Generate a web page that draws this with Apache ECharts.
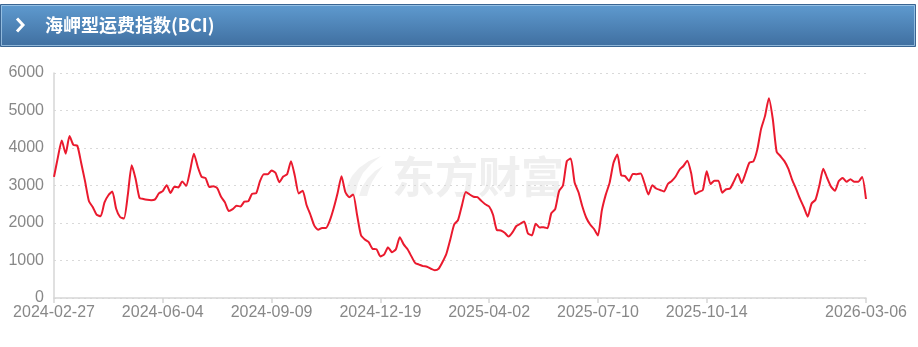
<!DOCTYPE html>
<html>
<head>
<meta charset="utf-8">
<script src="https://cdn.jsdelivr.net/npm/echarts@6/dist/echarts.min.js"></script>
<style>
html,body{margin:0;padding:0;background:#fff;}
#c{width:918px;height:347px;}
</style>
</head>
<body>
<div id="c"></div>
<script>
// tick labels (shown dates) and their category indices
const tickLabels = ['2024-02-27','2024-06-04','2024-09-09','2024-12-19','2025-04-02','2025-07-10','2025-10-14','2026-03-06'];
const tickIndex = [0,28,56,84,112,140,168,209];
const bciValues = [
3230,3750,4200,3850,4320,4080,4060,3600,3110,2580,
2420,2220,2180,2550,2740,2840,2380,2160,2120,2750,
3540,3180,2670,2640,2620,2610,2630,2790,2850,3010,
2800,2970,2950,3110,2990,3380,3850,3500,3230,3200,
2960,2980,2930,2700,2550,2320,2370,2460,2440,2570,
2580,2780,2790,3110,3300,3300,3400,3340,3090,3240,
3300,3650,3250,2790,2860,2480,2220,1930,1820,1870,
1870,2070,2400,2800,3250,2820,2690,2760,2220,1680,
1560,1490,1310,1300,1110,1165,1350,1220,1300,1620,
1430,1300,1110,930,890,850,835,780,740,780,
960,1180,1560,1960,2080,2470,2830,2760,2700,2690,
2590,2500,2440,2220,1810,1800,1740,1640,1750,1920,
1980,2040,1720,1670,1980,1880,1890,1860,2260,2370,
2850,3000,3650,3720,3080,2820,2440,2140,1960,1840,
1670,2330,2750,3070,3600,3830,3270,3250,3120,3310,
3300,3320,3060,2760,3010,2920,2880,2840,3040,3120,
3240,3420,3520,3660,3330,2770,2830,2880,3380,3040,
3130,3130,2810,2900,2920,3110,3310,3070,3330,3610,
3640,3950,4510,4850,5330,4780,3900,3780,3650,3450,
3150,2910,2650,2420,2170,2520,2620,3000,3450,3200,
2970,2860,3120,3200,3100,3170,3100,3100,3230,2640
];
const yTicks = [0,1000,2000,3000,4000,5000,6000];

// build category dates from the tick label anchors
function fmt(d){const p=n=>String(n).padStart(2,'0');return d.getUTCFullYear()+'-'+p(d.getUTCMonth()+1)+'-'+p(d.getUTCDate());}
const categories = [];
for (let s=0; s<tickIndex.length-1; s++){
  const i0=tickIndex[s], i1=tickIndex[s+1];
  const d0=Date.parse(tickLabels[s]+'T00:00:00Z'), d1=Date.parse(tickLabels[s+1]+'T00:00:00Z');
  for (let i=i0; i<i1; i++){
    const t = d0 + Math.round((i-i0)/(i1-i0)*(d1-d0)/86400000)*86400000;
    categories.push(fmt(new Date(t)));
  }
}
categories.push(tickLabels[tickLabels.length-1]);

const shown = new Set(tickIndex);
const showFn = (idx) => shown.has(idx);

const chart = echarts.init(document.getElementById('c'), null, {renderer:'canvas'});
chart.setOption({
  animation:false,
  backgroundColor:'#fff',
  grid:{left:54, right:52, top:73, bottom:49, containLabel:false},
  graphic:[
    {type:'rect', shape:{x:0.5,y:4.5,width:915,height:42}, z:10,
      style:{fill:new echarts.graphic.LinearGradient(0,0,0,1,[{offset:0,color:'#5f9bd0'},{offset:1,color:'#3f6e9f'}]), stroke:'#3a6592', lineWidth:1}},
    {type:'rect', shape:{x:1.5,y:5.5,width:913,height:40}, z:11,
      style:{fill:'none', stroke:'rgba(170,205,235,0.75)', lineWidth:1}},
    {type:'polyline', shape:{points:[[17,18.5],[23,25],[17,31.5]]}, z:12,
      style:{stroke:'#fff', lineWidth:3, fill:'none'}},
    {type:'text', x:45, y:25.5, z:12,
      style:{text:'海岬型运费指数(BCI)', fill:'#fff', font:'bold 18px "Noto Sans CJK SC", "Liberation Sans", sans-serif', verticalAlign:'middle'}},
    {type:'polygon', z:0, x:343, y:156,
      shape:{points:[[2,40],[4,30],[9,20],[16,12],[26,5],[38,0],[28,8],[20,17],[15,27],[12,40]]},
      style:{fill:'#f1f1f1'}},
    {type:'polygon', z:0, x:343, y:156,
      shape:{points:[[16,40],[19,31],[25,22],[32,15],[40,10],[34,18],[29,26],[26,33],[24,40]]},
      style:{fill:'#f1f1f1'}},
    {type:'text', x:392, y:177, z:0,
      style:{text:'东方财富', fill:'#efefef', font:'bold 43px "Noto Sans CJK SC", sans-serif', verticalAlign:'middle'}}
  ],
  xAxis:{
    type:'category', data:categories, boundaryGap:false,
    axisLine:{lineStyle:{color:'#d6d6d6', width:1.5}},
    axisTick:{show:true, interval:showFn, length:5, lineStyle:{color:'#d6d6d6', width:1.5}},
    axisLabel:{interval:showFn, color:'#888', fontSize:16, margin:7, fontFamily:'"Liberation Sans", Arial, sans-serif'},
    splitLine:{show:false}
  },
  yAxis:{
    type:'value', min:yTicks[0], max:yTicks[yTicks.length-1], interval:1000,
    axisLine:{show:true, lineStyle:{color:'#d6d6d6', width:1.5}},
    axisTick:{show:false},
    axisLabel:{color:'#888', fontSize:16, margin:10, fontFamily:'"Liberation Sans", Arial, sans-serif', formatter:(v)=>String(v)},
    splitLine:{show:true, lineStyle:{color:'#d9d9d9', type:[2,4], width:1}}
  },
  series:[{
    type:'line', data:bciValues, symbol:'none', smooth:0.2,
    lineStyle:{color:'#ea1a2e', width:2}, z:3
  }]
});
</script>
</body>
</html>
